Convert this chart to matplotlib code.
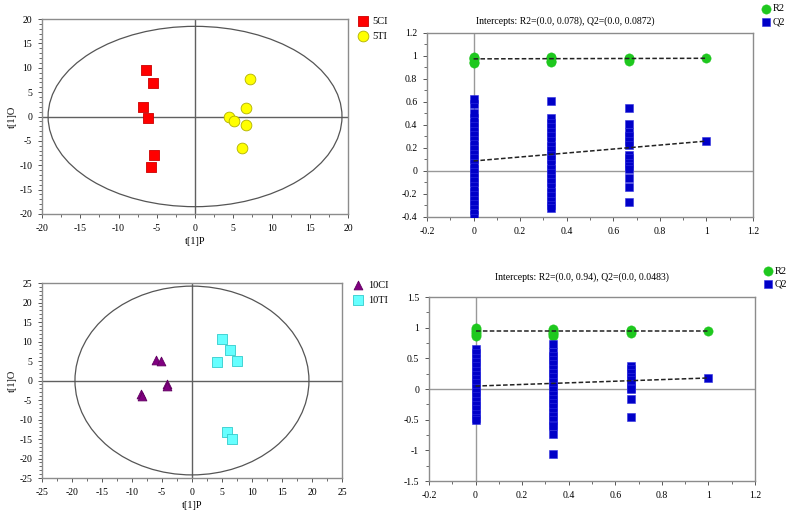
import matplotlib
matplotlib.use("Agg")
import matplotlib.pyplot as plt
from matplotlib.patches import Ellipse
from matplotlib.ticker import MultipleLocator, AutoMinorLocator, FuncFormatter

plt.rcParams['font.family'] = ['Liberation Serif', 'DejaVu Serif']
plt.rcParams['font.size'] = 7
plt.rcParams['axes.unicode_minus'] = False

# ---- Panel 1: 5CI vs 5TI score plot ----
ci5_x = [-6.4, -5.5, -6.8, -6.2, -5.3, -5.8]
ci5_y = [9.5, 6.9, 2.0, -0.3, -7.9, -10.4]
ti5_x = [7.2, 6.7, 4.4, 5.1, 6.6, 6.1]
ti5_y = [7.7, 1.7, -0.1, -1.0, -1.8, -6.5]
ellipse1 = (19.2, 18.5)

# ---- Panel 3: 10CI vs 10TI score plot ----
ci10_x = [-6.0, -5.1, -4.2, -4.2, -8.5, -8.4]
ci10_y = [5.2, 5.0, -0.8, -1.3, -3.5, -3.9]
ti10_x = [5.0, 6.3, 4.2, 7.5, 5.8, 6.7]
ti10_y = [10.6, 7.7, 4.7, 5.0, -13.2, -15.1]
ellipse3 = (19.5, 24.2)

# ---- Panel 2: permutation test (5) ----
p2_r2_x = [0, 0, 0, 0, 0, 0.333, 0.333, 0.333, 0.333, 0.667, 0.667, 0.667, 1.0]
p2_r2_y = [0.99, 0.98, 0.97, 0.95, 0.94, 0.99, 0.98, 0.96, 0.95, 0.985, 0.97, 0.96, 0.98]
p2_q2_x0 = [-0.38, -0.34, -0.30, -0.26, -0.22, -0.18, -0.14, -0.10, -0.06, -0.02, 0.02,
            0.06, 0.10, 0.14, 0.18, 0.22, 0.26, 0.30, 0.34, 0.38, 0.42, 0.46, 0.50,
            0.585, 0.625]
p2_q2_x1 = [0.61, 0.46, 0.42, 0.38, 0.34, 0.30, 0.26, 0.22, 0.18, 0.14, 0.10, 0.06, 0.02,
            -0.02, -0.06, -0.10, -0.14, -0.18, -0.22, -0.26, -0.30, -0.32]
p2_q2_x2 = [0.55, 0.41, 0.34, 0.30, 0.26, 0.23, 0.14, 0.11, 0.07, 0.04, 0.015,
            -0.064, -0.136, -0.267]
p2_q2_x3 = [0.263]
p2_r2_line = ([0, 1.0], [0.975, 0.98])
p2_q2_line = ([0, 1.0], [0.087, 0.26])
p2_title = "Intercepts: R2=(0.0, 0.078), Q2=(0.0, 0.0872)"

# ---- Panel 4: permutation test (10) ----
p4_r2_x = [0, 0, 0, 0, 0, 0.333, 0.333, 0.333, 0.333, 0.333, 0.667, 0.667, 0.667, 1.0]
p4_r2_y = [0.99, 0.96, 0.93, 0.90, 0.87, 0.98, 0.95, 0.92, 0.89, 0.86, 0.97, 0.94, 0.91, 0.94]
p4_q2_x0 = [0.65, 0.58, 0.51, 0.44, 0.37, 0.30, 0.23, 0.16, 0.09, 0.02, -0.05, -0.12,
            -0.19, -0.26, -0.33, -0.40, -0.47, -0.50]
p4_q2_x1 = [0.73, 0.61, 0.54, 0.47, 0.40, 0.33, 0.26, 0.19, 0.12, 0.05, -0.02, -0.09,
            -0.16, -0.23, -0.30, -0.37, -0.44, -0.51, -0.58, -0.61, -0.73, -1.06]
p4_q2_x2 = [0.38, 0.32, 0.26, 0.20, 0.14, 0.08, 0.02, 0.0, -0.16, -0.46]
p4_q2_x3 = [0.18]
p4_r2_line = ([0, 1.0], [0.94, 0.94])
p4_q2_line = ([0, 1.0], [0.048, 0.18])
p4_title = "Intercepts: R2=(0.0, 0.94), Q2=(0.0, 0.0483)"

spine_col = '#8c8c8c'
q2_color = '#0000c8'
r2_color = '#1ec81e'

fig = plt.figure(figsize=(7.89, 5.17), dpi=100)
ax1 = fig.add_axes([0.0532, 0.5861, 0.388, 0.3771])
ax2 = fig.add_axes([0.5412, 0.5803, 0.4132, 0.3559])
ax3 = fig.add_axes([0.0532, 0.0754, 0.3802, 0.3772])
ax4 = fig.add_axes([0.5437, 0.0696, 0.4132, 0.3559])

fmt = FuncFormatter(lambda v, p: ('%g' % round(v, 6)).replace('\u2212', '-'))


def style(ax):
    for s in ax.spines.values():
        s.set_color(spine_col)
        s.set_linewidth(1.0)
    ax.tick_params(which='major', direction='out', length=3, width=0.7,
                   color='#555555', labelsize=7, pad=4)
    ax.tick_params(which='minor', direction='out', length=2, width=0.6, color='#555555')
    ax.xaxis.set_major_formatter(fmt)
    ax.yaxis.set_major_formatter(fmt)


def score_panel(ax, lim, step, ell, xa, ya, xb, yb, ma, ca, ea, la, mb, cb, eb, lb,
                sa, sb, leg_anchor):
    style(ax)
    ax.set_xlim(-lim, lim)
    ax.set_ylim(-lim, lim)
    ax.xaxis.set_major_locator(MultipleLocator(step))
    ax.yaxis.set_major_locator(MultipleLocator(step))
    ax.xaxis.set_minor_locator(AutoMinorLocator(2))
    ax.yaxis.set_minor_locator(AutoMinorLocator(5))
    ax.axhline(0, color='#606060', lw=1.0, zorder=1)
    ax.axvline(0, color='#606060', lw=1.0, zorder=1)
    ax.add_patch(Ellipse((0, 0), 2 * ell[0], 2 * ell[1], fill=False,
                         edgecolor='#555555', lw=0.9, zorder=1))
    ax.scatter(xa, ya, marker=ma, s=sa, c=ca, edgecolors=ea, linewidths=0.6, zorder=3, label=la)
    ax.scatter(xb, yb, marker=mb, s=sb, c=cb, edgecolors=eb, linewidths=0.6, zorder=3, label=lb)
    ax.set_xlabel('t[1]P', fontsize=7.5, labelpad=3)
    ax.set_ylabel('t[1]O', fontsize=7.5, labelpad=2)
    ax.legend(loc='upper left', bbox_to_anchor=leg_anchor, frameon=False, fontsize=7.5,
              handletextpad=0.3, borderaxespad=0, labelspacing=0.6, handlelength=1.2)


score_panel(ax1, 20, 5, ellipse1, ci5_x, ci5_y, ti5_x, ti5_y,
            's', '#ff0000', '#cc0000', '5CI', 'o', '#ffff00', '#b0b000', '5TI',
            45, 60, (1.015, 1.035))
score_panel(ax3, 25, 5, ellipse3, ci10_x, ci10_y, ti10_x, ti10_y,
            '^', '#800080', '#600060', '10CI', 's', '#66ffff', '#33cccc', '10TI',
            40, 45, (1.02, 1.035))


def perm_panel(ax, ylim, ystep, r2x, r2y, q_cols, rline, qline, title, tx, ty, leg_anchor):
    style(ax)
    ax.set_xlim(-0.2, 1.2)
    ax.set_ylim(*ylim)
    ax.xaxis.set_major_locator(MultipleLocator(0.2))
    ax.xaxis.set_minor_locator(AutoMinorLocator(2))
    ax.yaxis.set_major_locator(MultipleLocator(ystep))
    ax.yaxis.set_minor_locator(AutoMinorLocator(2))
    ax.axhline(0, color='#999999', lw=1.0, zorder=1)
    ax.axvline(0, color='#999999', lw=1.0, zorder=1)
    ax.scatter(r2x, r2y, marker='o', s=45, c=r2_color, edgecolors=r2_color, linewidths=0.3,
               zorder=3, label='R2')
    xs_all, ys_all = [], []
    for xv, ys in zip([0, 0.333, 0.667, 1.0], q_cols):
        xs_all += [xv] * len(ys)
        ys_all += ys
    ax.scatter(xs_all, ys_all, marker='s', s=32, c=q2_color, edgecolors='#3030e0',
               linewidths=0.4, zorder=3, label='Q2', clip_on=True)
    ax.plot(rline[0], rline[1], ls=(0, (3, 1.5)), color='#222222', lw=1.1, zorder=4)
    ax.plot(qline[0], qline[1], ls=(0, (3, 1.5)), color='#222222', lw=1.1, zorder=4)
    ax.text(tx, ty, title, transform=ax.transAxes, ha='center', va='center', fontsize=7)
    ax.legend(loc='upper left', bbox_to_anchor=leg_anchor, frameon=False, fontsize=7.5,
              handletextpad=0.2, borderaxespad=0, labelspacing=0.35, handlelength=1.0)


perm_panel(ax2, (-0.4, 1.2), 0.2, p2_r2_x, p2_r2_y,
           [p2_q2_x0, p2_q2_x1, p2_q2_x2, p2_q2_x3], p2_r2_line, p2_q2_line,
           p2_title, 0.423, 1.065, (1.01, 1.18))
perm_panel(ax4, (-1.5, 1.5), 0.5, p4_r2_x, p4_r2_y,
           [p4_q2_x0, p4_q2_x1, p4_q2_x2, p4_q2_x3], p4_r2_line, p4_q2_line,
           p4_title, 0.469, 1.11, (1.01, 1.19))

fig.savefig('out.png', dpi=100)
